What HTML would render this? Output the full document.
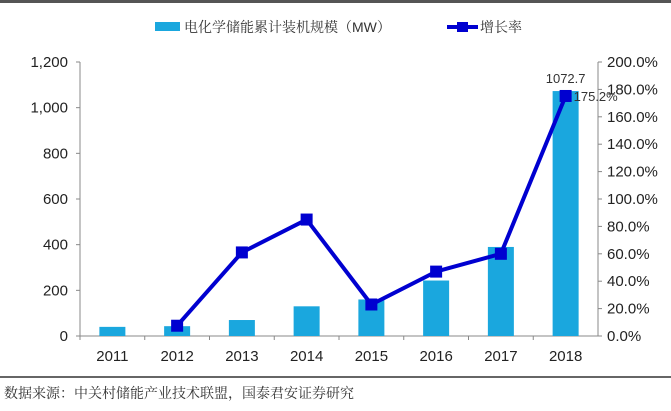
<!DOCTYPE html>
<html><head><meta charset="utf-8"><style>
body{margin:0;background:#fff;width:671px;height:406px;overflow:hidden;font-family:"Liberation Sans","Noto Sans CJK SC",sans-serif}
</style></head><body>
<svg width="671" height="406" xmlns="http://www.w3.org/2000/svg">
<rect x="0" y="0" width="671" height="3" fill="#555"/>
<g>
<rect x="155" y="22" width="25" height="9" fill="#1aa7de"/>
<text x="184" y="32" font-size="14" fill="#333" font-family="Liberation Sans,Noto Serif CJK SC,serif">电化学储能累计装机规模（MW）</text>
<line x1="447" y1="27" x2="478" y2="27" stroke="#0000d0" stroke-width="4"/>
<rect x="457" y="22" width="11" height="10" fill="#0000d0"/>
<text x="480" y="32" font-size="14" fill="#333" font-family="Liberation Sans,Noto Serif CJK SC,serif">增长率</text>
</g>
<g id="axes"></g><g id="bars"></g><g id="line"></g>
<line x1="0" y1="377" x2="671" y2="377" stroke="#333" stroke-width="1.5"/>
<text x="4" y="398" font-size="14" fill="#333" font-family="Liberation Serif,Noto Serif CJK SC,serif">数据来源：中关村储能产业技术联盟，国泰君安证券研究</text>
</svg>
<script>
const categories=["2011","2012","2013","2014","2015","2016","2017","2018"];
const capacity=[40,43,70,130,160,243,390,1072.7];
const growth=[null,7.5,61,85,23,47,60,175.2];
const leftTicks=[0,200,400,600,800,1000,1200];
const rightTicks=[0,20,40,60,80,100,120,140,160,180,200];
const NS="http://www.w3.org/2000/svg";
const X0=80,X1=598,Y0=336,Y1=62;
const bw=(X1-X0)/categories.length;
const xc=i=>X0+bw*(i+0.5);
const yL=v=>Y0-(v/1200)*(Y0-Y1);
const yR=v=>Y0-(v/200)*(Y0-Y1);
function mk(t,a,p){const e=document.createElementNS(NS,t);for(const k in a)e.setAttribute(k,a[k]);p.appendChild(e);return e;}
const ax=document.getElementById('axes');
let e=mk('line',{x1:X0,y1:Y1,x2:X0,y2:Y0,stroke:'#888'},ax);


e=mk('line',{x1:X1,y1:Y1,x2:X1,y2:Y0,stroke:'#888'},ax);


e=mk('line',{x1:X0,y1:Y0,x2:X1,y2:Y0,stroke:'#888'},ax);


leftTicks.forEach(v=>{const y=yL(v);
mk('line',{x1:X0-4,y1:y,x2:X0,y2:y,stroke:'#888'},ax);
const t=mk('text',{x:68,y:y+5,'font-size':15,'text-anchor':'end',fill:'#222'},ax);t.textContent=v.toLocaleString('en-US');

});
rightTicks.forEach(v=>{const y=yR(v);
mk('line',{x1:X1,y1:y,x2:X1+4,y2:y,stroke:'#888'},ax);
const t=mk('text',{x:607,y:y+5,'font-size':15,fill:'#222'},ax);t.textContent=v.toFixed(1)+'%';

});
categories.forEach((c,i)=>{
mk('line',{x1:X0+bw*i,y1:Y0,x2:X0+bw*i,y2:Y0+4,stroke:'#888'},ax);
const t=mk('text',{x:xc(i),y:361,'font-size':15,'text-anchor':'middle',fill:'#222'},ax);t.textContent=c;

});
const bg=document.getElementById('bars');
capacity.forEach((v,i)=>{const r=mk('rect',{x:xc(i)-13,y:yL(v),width:26,height:Y0-yL(v),fill:'#1aa7de'},bg);

});
const li=capacity.length-1;
let t=mk('text',{x:xc(li),y:yL(capacity[li])-8,'font-size':13,'text-anchor':'middle',fill:'#333'},bg);t.textContent=capacity[li];


const lg=document.getElementById('line');
const pts=growth.map((v,i)=>v==null?null:[xc(i),yR(v)]).filter(p=>p);
const pl=mk('polyline',{points:pts.map(p=>p.join(',')).join(' '),fill:'none',stroke:'#0000d0','stroke-width':4,'stroke-linejoin':'round'},lg);


growth.forEach((v,i)=>{if(v==null)return;const m=mk('rect',{x:xc(i)-6,y:yR(v)-6,width:12,height:12,fill:'#0000d0'},lg);

});
t=mk('text',{x:xc(li)+8,y:yR(growth[li])+5,'font-size':13,fill:'#333'},lg);t.textContent=growth[li].toFixed(1)+'%';


</script>
</body></html>
